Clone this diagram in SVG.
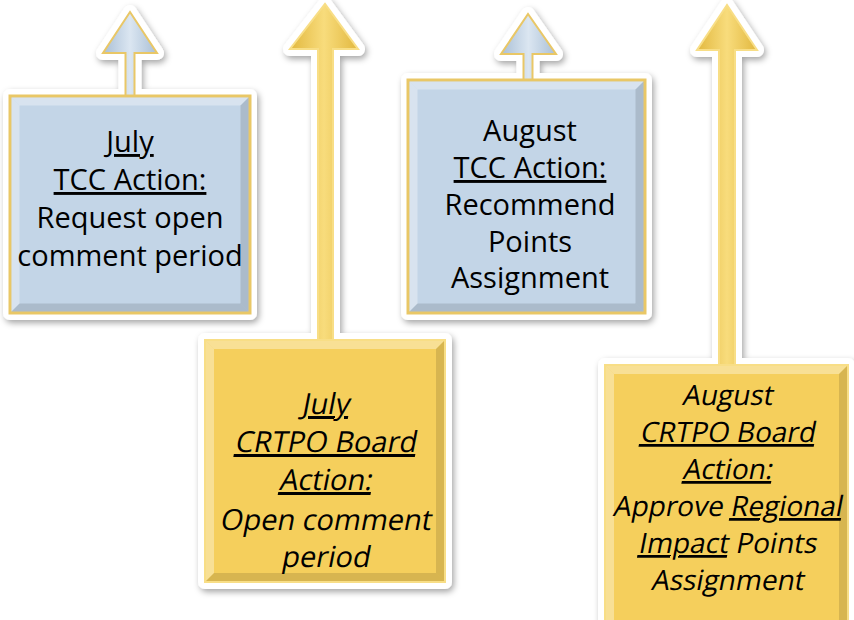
<svg xmlns="http://www.w3.org/2000/svg" width="854" height="620" viewBox="0 0 854 620">
<defs>
<filter id="sh" x="-20%" y="-20%" width="140%" height="140%">
<feDropShadow dx="2" dy="3" stdDeviation="3" flood-color="#000" flood-opacity="0.35"/>
</filter>
<linearGradient id="gBlueArrow" x1="0" y1="0" x2="1" y2="0">
<stop offset="0" stop-color="#a9bfd6"/><stop offset="0.5" stop-color="#dbe6f1"/><stop offset="1" stop-color="#a9bfd6"/>
</linearGradient>
<linearGradient id="gGoldArrow" x1="0" y1="0" x2="1" y2="0">
<stop offset="0" stop-color="#e2b83f"/><stop offset="0.5" stop-color="#f8dc7c"/><stop offset="1" stop-color="#e2b83f"/>
</linearGradient>
<style>
.sticker{fill:#fff;stroke:#fff;stroke-width:14;stroke-linejoin:round}
.blue{fill:#c3d5e7;stroke:#e9c766;stroke-width:3}
.gold{fill:#f5cf5c;stroke:#f8de86;stroke-width:2}
.ablue{fill:url(#gBlueArrow);stroke:#e9c766;stroke-width:2}
.agold{fill:url(#gGoldArrow);stroke:#f8de86;stroke-width:2}
.hl{fill:#fff;opacity:0.35}
.dk{fill:#000;opacity:0.12}
text{font-family:"Open Sans","Noto Sans","Liberation Sans",sans-serif;font-size:29px;fill:#000;text-anchor:middle}
.sm{font-size:28px}
.u{text-decoration:underline}
</style>
</defs>

<g id="node-july-tcc">
<g filter="url(#sh)">
<rect class="sticker" x="10" y="96" width="240" height="217"/>
<polygon class="sticker" points="125.5,96 125.5,53 103,53 130,12 157,53 134.5,53 134.5,96"/>
</g>
<polygon class="ablue" points="125.5,97 125.5,53 103,53 130,12 157,53 134.5,53 134.5,97"/>
<rect class="blue" x="10" y="96" width="240" height="217"/>
<polygon class="hl" points="11.5,97.5 248.5,97.5 240.5,105.5 19.5,105.5"/>
<polygon class="hl" points="11.5,97.5 19.5,105.5 19.5,303.5 11.5,311.5"/>
<polygon class="dk" points="248.5,97.5 248.5,311.5 240.5,303.5 240.5,105.5"/>
<polygon class="dk" points="11.5,311.5 248.5,311.5 240.5,303.5 19.5,303.5"/>
<text x="130" y="152"><tspan class="u">July</tspan></text>
<text x="130" y="190"><tspan class="u">TCC Action:</tspan></text>
<text x="130" y="228">Request open</text>
<text x="130" y="266">comment period</text>
</g>

<g id="node-july-board">
<g filter="url(#sh)">
<rect class="sticker" x="205" y="340" width="240" height="242"/>
<polygon class="sticker" points="318,340 318,49 290,49 325,4 358,49 333,49 333,340"/>
</g>
<polygon class="agold" points="318,341 318,49 290,49 325,4 358,49 333,49 333,341"/>
<rect class="gold" x="205" y="340" width="240" height="242"/>
<polygon class="hl" points="206,341 444,341 436,349 214,349"/>
<polygon class="hl" points="206,341 214,349 214,573 206,581"/>
<polygon class="dk" points="444,341 444,581 436,573 436,349"/>
<polygon class="dk" points="206,581 444,581 436,573 214,573"/>
<text transform="translate(325,414) skewX(-11)"><tspan class="u">July</tspan></text>
<text transform="translate(325,452) skewX(-11)"><tspan class="u">CRTPO Board</tspan></text>
<text transform="translate(325,490) skewX(-11)"><tspan class="u">Action:</tspan></text>
<text transform="translate(325,530) skewX(-11)">Open comment</text>
<text transform="translate(325,567) skewX(-11)">period</text>
</g>

<g id="node-august-tcc">
<g filter="url(#sh)">
<rect class="sticker" x="408" y="80" width="237" height="233"/>
<polygon class="sticker" points="523.5,80 523.5,54 501,54 528,14 556,54 532.5,54 532.5,80"/>
</g>
<polygon class="ablue" points="523.5,81 523.5,54 501,54 528,14 556,54 532.5,54 532.5,81"/>
<rect class="blue" x="408" y="80" width="237" height="233"/>
<polygon class="hl" points="409.5,81.5 643.5,81.5 635.5,89.5 417.5,89.5"/>
<polygon class="hl" points="409.5,81.5 417.5,89.5 417.5,303.5 409.5,311.5"/>
<polygon class="dk" points="643.5,81.5 643.5,311.5 635.5,303.5 635.5,89.5"/>
<polygon class="dk" points="409.5,311.5 643.5,311.5 635.5,303.5 417.5,303.5"/>
<text x="530" y="141">August</text>
<text x="530" y="178"><tspan class="u">TCC Action:</tspan></text>
<text x="530" y="215">Recommend</text>
<text x="530" y="252">Points</text>
<text x="530" y="288">Assignment</text>
</g>

<g id="node-august-board">
<g filter="url(#sh)">
<rect class="sticker" x="605" y="365" width="243" height="270"/>
<polygon class="sticker" points="719,365 719,50 697,50 727,5 757,50 735,50 735,365"/>
</g>
<polygon class="agold" points="719,366 719,50 697,50 727,5 757,50 735,50 735,366"/>
<rect class="gold" x="605" y="365" width="243" height="270"/>
<polygon class="hl" points="606,366 847,366 839,374 614,374"/>
<polygon class="hl" points="606,366 614,374 614,620 606,620"/>
<polygon class="dk" points="847,366 847,620 839,620 839,374"/>
<text class="sm" transform="translate(727,405) skewX(-11)">August</text>
<text class="sm" transform="translate(727,442) skewX(-11)"><tspan class="u">CRTPO Board</tspan></text>
<text class="sm" transform="translate(727,479) skewX(-11)"><tspan class="u">Action:</tspan></text>
<text class="sm" transform="translate(727,516) skewX(-11)">Approve <tspan class="u">Regional</tspan></text>
<text class="sm" transform="translate(727,553) skewX(-11)"><tspan class="u">Impact</tspan> Points</text>
<text class="sm" transform="translate(727,590) skewX(-11)">Assignment</text>
</g>

<g id="connectors"></g>
</svg>
